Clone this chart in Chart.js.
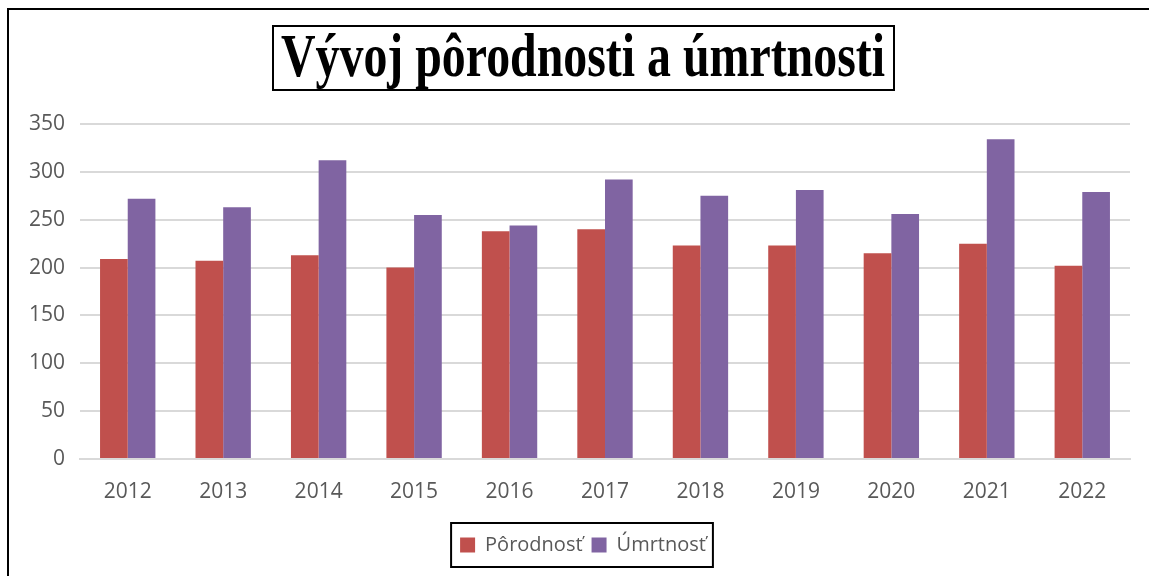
<!DOCTYPE html>
<html>
<head>
<meta charset="utf-8">
<script src="https://cdn.jsdelivr.net/npm/chart.js@4/dist/chart.umd.min.js"></script>
<style>
  html, body { margin: 0; padding: 0; background: #fff; }
  #wrap { position: relative; width: 1149px; height: 576px; }
</style>
</head>
<body>
<div id="wrap"><canvas id="chart" width="1149" height="576"></canvas></div>
<script>
// data
const years = ["2012", "2013", "2014", "2015", "2016", "2017", "2018", "2019", "2020", "2021", "2022"];
const porodnost = [209, 207, 213, 200, 238, 240, 223, 223, 215, 225, 202];
const umrtnost = [272, 263, 312, 255, 244, 292, 275, 281, 256, 334, 279];
const titleText = "Vývoj pôrodnosti a úmrtnosti";

// outer frame, boxed title and boxed legend
const frame = {
    id: "frame",
    afterLayout(chart){
        // legend sits a bit right of the centre in the original
        chart.legend.left += 11;
        chart.legend.right += 11;
    },
    afterDraw(chart){
        const c = chart.ctx;
        c.save();
        c.strokeStyle = "#000";
        c.lineWidth = 2;
        c.beginPath();
        c.moveTo(8, 576);
        c.lineTo(8, 9);
        c.lineTo(1149, 9);
        c.stroke();

        // title box
        c.strokeRect(273, 26, 621, 64);
        c.font = "bold 61px 'Liberation Serif', 'Times New Roman', serif";
        c.fillStyle = "#000";
        c.textBaseline = "alphabetic";
        const w = c.measureText(titleText).width;
        const sx = 604 / w;
        c.translate(583, 76);
        c.scale(sx, 1);
        c.textAlign = "center";
        c.fillText(titleText, 0, 0);
        c.restore();

        // legend box
        const boxes = chart.legend.legendHitBoxes;
        if(boxes && boxes.length){
            let l = Infinity, r = -Infinity, t = Infinity, b = -Infinity;
            boxes.forEach(h => {
                l = Math.min(l, h.left); r = Math.max(r, h.left + h.width);
                t = Math.min(t, h.top); b = Math.max(b, h.top + h.height);
            });
            c.save();
            c.strokeStyle = "#000";
            c.lineWidth = 2;
            c.strokeRect(l - 9, t - 12, r - l + 16, b - t + 24);
            c.restore();
        }
    }
};

const ctx = document.getElementById("chart");
new Chart(ctx, {
    type: "bar",
    data: {
        labels: years,
        datasets: [{
            label: "Pôrodnosť",
            data: porodnost,
            backgroundColor: "#C0504D",
            borderWidth: 0
        },{
            label: "Úmrtnosť",
            data: umrtnost,
            backgroundColor: "#8064A2",
            borderWidth: 0
        }]
    },
    options: {
        responsive: false,
        animation: false,
        layout: {
            padding: {top: 124, left: 14, right: 19, bottom: 11}
        },
        datasets: {
            bar: {categoryPercentage: 0.58, barPercentage: 1}
        },
        plugins: {
            legend: {
                position: "bottom",
                labels: {
                    boxWidth: 15,
                    boxHeight: 15,
                    padding: 9,
                    color: "#595959",
                    font: {family: "'Open Sans', sans-serif", size: 20}
                }
            },
            tooltip: {enabled: false}
        },
        scales: {
            x: {
                afterFit(scale){ scale.height = 67; },
                grid: {display: false},
                border: {color: "#D9D9D9", width: 2},
                ticks: {
                    color: "#595959",
                    padding: 12,
                    font: {family: "'Open Sans', sans-serif", size: 21}
                }
            },
            y: {
                min: 0,
                max: 350,
                afterFit(scale){ scale.width = 66; },
                grid: {color: "#D9D9D9", lineWidth: 2, drawTicks: false},
                border: {display: false},
                ticks: {
                    stepSize: 50,
                    color: "#595959",
                    padding: 15,
                    font: {family: "'Open Sans', sans-serif", size: 21}
                }
            }
        }
    },
    plugins: [frame]
});
</script>
</body>
</html>
